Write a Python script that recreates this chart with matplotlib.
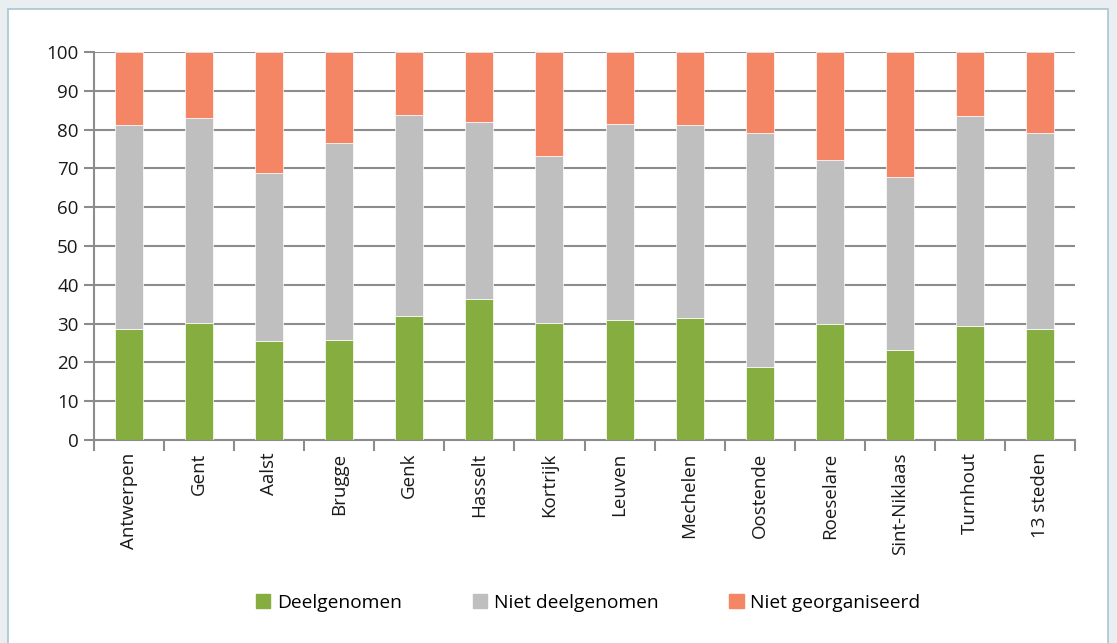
import matplotlib
matplotlib.use("Agg")
import matplotlib.pyplot as plt
from matplotlib.patches import Rectangle, Patch
import numpy as np

plt.rcParams['font.family'] = ['Open Sans', 'DejaVu Sans']

# ---------- DATA ----------
steden = ["Antwerpen", "Gent", "Aalst", "Brugge", "Genk", "Hasselt", "Kortrijk",
          "Leuven", "Mechelen", "Oostende", "Roeselare", "Sint-Niklaas",
          "Turnhout", "13 steden"]
deelgenomen = [28.5, 30.2, 25.6, 25.9, 32.0, 36.3, 30.2, 30.8, 31.5, 18.9, 30.0, 23.3, 29.5, 28.7]
niet_deelgenomen = [52.7, 52.8, 43.2, 50.7, 51.7, 45.6, 43.0, 50.6, 49.7, 60.3, 42.2, 44.5, 54.0, 50.4]
niet_georganiseerd = [18.8, 17.0, 31.2, 23.4, 16.3, 18.1, 26.8, 18.6, 18.8, 20.8, 27.8, 32.2, 16.5, 20.9]

GREEN = "#86ad3f"
GRAY = "#bfbfbf"
SALMON = "#f48565"
GRID = "#8c8c8c"

# ---------- FIGURE ----------
fig = plt.figure(figsize=(11.17, 6.43), dpi=100)
fig.patch.set_facecolor("#e9eef1")
# white panel with light blue border (behind the axes)
fig.patches.append(Rectangle((8 / 1117, -0.05), 1100 / 1117, 1 - 9 / 643 + 0.05,
                             transform=fig.transFigure, facecolor="white",
                             edgecolor="#a8c6d2", linewidth=1.2, zorder=-10))

ax = fig.add_axes([94 / 1117, 1 - 440 / 643, (1075 - 94) / 1117, (440 - 52) / 643])
ax.set_facecolor("none")

x = np.arange(len(steden))
w = 0.4
bottom2 = np.array(deelgenomen)
bottom3 = bottom2 + np.array(niet_deelgenomen)
ax.bar(x, deelgenomen, w, color=GREEN, edgecolor="white", linewidth=0.5, zorder=3)
ax.bar(x, niet_deelgenomen, w, bottom=bottom2, color=GRAY, edgecolor="white", linewidth=0.5, zorder=3)
ax.bar(x, niet_georganiseerd, w, bottom=bottom3, color=SALMON, edgecolor="white", linewidth=0.5, zorder=3)

ax.set_xlim(-0.5, len(steden) - 0.5)
ax.set_ylim(0, 100)
ax.set_yticks(range(0, 101, 10))
ax.yaxis.grid(True, color=GRID, linewidth=1.5, zorder=0)
ax.set_axisbelow(True)

for s in ["top", "right"]:
    ax.spines[s].set_visible(False)
for s in ["left", "bottom"]:
    ax.spines[s].set_color(GRID)
    ax.spines[s].set_linewidth(1.5)

# category labels centred, ticks at boundaries
ax.set_xticks(x)
ax.set_xticklabels(steden, rotation=90, fontsize=13.5, color="#1a1a1a")
ax.tick_params(axis="x", which="major", length=0, pad=9)
ax.set_xticks(np.arange(-0.5, len(steden), 1), minor=True)
ax.tick_params(axis="x", which="minor", length=8, width=1.5, color=GRID)
ax.tick_params(axis="y", length=7, width=1.5, color=GRID, labelsize=13.5,
               labelcolor="#1a1a1a", pad=4)

handles = [Patch(color=GREEN), Patch(color=GRAY), Patch(color=SALMON)]
fig.legend(handles, ["Deelgenomen", "Niet deelgenomen", "Niet georganiseerd"],
           loc="center", bbox_to_anchor=(0.5264, 1 - 603 / 643), ncol=3, frameon=False,
           fontsize=13.8, handlelength=0.75, handleheight=0.75, handletextpad=0.35,
           columnspacing=3.7)

fig.savefig("out.png", dpi=100, facecolor=fig.get_facecolor())
